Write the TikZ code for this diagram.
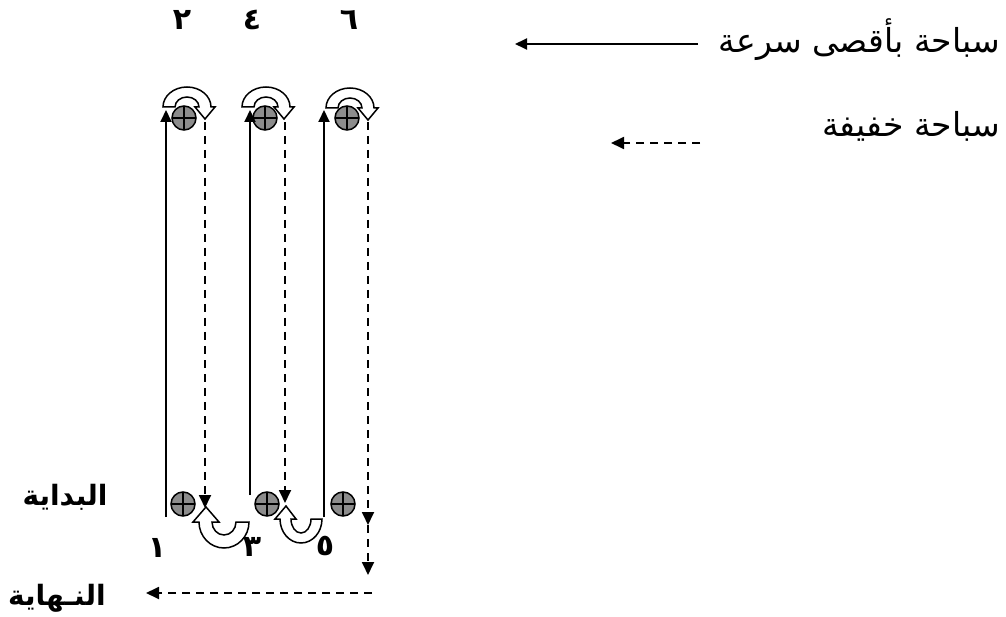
\documentclass[tikz,border=0pt]{standalone}
\usepackage{fontspec}
\usetikzlibrary{arrows.meta}
\TeXXeTstate=1
\newfontfamily\arabicfont[Script=Arabic]{DejaVu Sans}

\tikzset{
  marker/.style={circle, draw, line width=1.5pt, fill=black!45,
    minimum size=24pt, inner sep=0pt,
    path picture={\draw[line width=1.4pt]
      (path picture bounding box.north) -- (path picture bounding box.south)
      (path picture bounding box.west) -- (path picture bounding box.east);}},
  fast/.style={line width=1.9pt, -{Triangle[width=11pt,length=12pt]}},
  easy/.style={line width=1.8pt, dash pattern=on 8pt off 6pt,
    -{Triangle[width=12pt,length=13pt]}},
  turn/.style={draw, fill=white, line width=1.5pt, line join=miter},
  legendtext/.style={font=\arabicfont\fontsize{33}{38}\selectfont, inner sep=0pt, anchor=east},
  label/.style={font=\arabicfont\bfseries\fontsize{28}{33}\selectfont, inner sep=0pt},
  num/.style={font=\arabicfont\bfseries\fontsize{30}{35}\selectfont, inner sep=0pt},
  uturn top/.pic={
    \path[turn] (-24,0) arc[start angle=180, end angle=360, x radius=24, y radius=20]
      -- (28,0) -- (18,12) -- (8,0) -- (12,0)
      arc[start angle=360, end angle=180, x radius=12, y radius=10] -- cycle;},
  uturn wide/.pic={
    \path[turn] (25,0) arc[start angle=0, end angle=180, x radius=25, y radius=26]
      -- (-31,0) -- (-18,-15) -- (-5,0) -- (-12,0)
      arc[start angle=180, end angle=0, x radius=12, y radius=13] -- cycle;},
  uturn narrow/.pic={
    \path[turn] (21,0) arc[start angle=0, end angle=180, x radius=21, y radius=24]
      -- (-26,0) -- (-15,-13) -- (-5,0) -- (-10,0)
      arc[start angle=180, end angle=0, x radius=10, y radius=14] -- cycle;},
}

\begin{document}
\begin{tikzpicture}[x=1pt, y=-1pt]
\useasboundingbox (0,0) rectangle (1006,617);

% legend
\node[legendtext] (fasttxt) at (1000,40) {\beginR سباحة بأقصى سرعة\endR};
\node[legendtext] (easytxt) at (1000,126) {\beginR سباحة خفيفة\endR};
\coordinate (fastfrom) at (698,44);
\coordinate (fastto) at (515,44);
\coordinate (easyfrom) at (700,143);
\coordinate (easyto) at (611,143);
\draw[fast] (fastfrom) -- (fastto);
\draw[easy] (easyfrom) -- (easyto);

% lap numbers
\node[num] (n2) at (182,20) {٢};
\node[num] (n4) at (252,20) {٤};
\node[num] (n6) at (349,20) {٦};
\node[num] (n1) at (157,548) {١};
\node[num] (n3) at (252,547) {٣};
\node[num] (n5) at (325,546) {٥};

% start / finish
\node[label] (start) at (65,497) {\beginR البداية\endR};
\node[label] (finish) at (57,598) {\beginR النـهاية\endR};

% lane markers
\node[marker] (t1) at (184,118) {};
\node[marker] (t2) at (265,118) {};
\node[marker] (t3) at (347,118) {};
\node[marker] (b1) at (183,504) {};
\node[marker] (b2) at (267,504) {};
\node[marker] (b3) at (343,504) {};

% turning arrows
\pic at (187,107) {uturn top};
\pic at (266,107) {uturn top};
\pic at (350,108) {uturn top};
\pic at (224,522) {uturn wide};
\pic at (301,519) {uturn narrow};

% fast lengths (upwards)
\coordinate (s1a) at (166,517); \coordinate (s1b) at (166,110);
\coordinate (s2a) at (250,495); \coordinate (s2b) at (250,110);
\coordinate (s3a) at (324,517); \coordinate (s3b) at (324,110);
\draw[fast] (s1a) -- (s1b);
\draw[fast] (s2a) -- (s2b);
\draw[fast] (s3a) -- (s3b);

% easy lengths (downwards)
\coordinate (e1a) at (205,122); \coordinate (e1b) at (205,508);
\coordinate (e2a) at (285,122); \coordinate (e2b) at (285,503);
\coordinate (e3a) at (368,122); \coordinate (e3b) at (368,525);
\coordinate (e3c) at (368,575);
\draw[easy] (e1a) -- (e1b);
\draw[easy] (e2a) -- (e2b);
\draw[easy] (e3a) -- (e3b);
\draw[easy] (e3b) -- (e3c);

% run-out to the finish
\coordinate (outfrom) at (372,593);
\coordinate (outto) at (146,593);
\draw[easy] (outfrom) -- (outto);
\end{tikzpicture}
\end{document}
